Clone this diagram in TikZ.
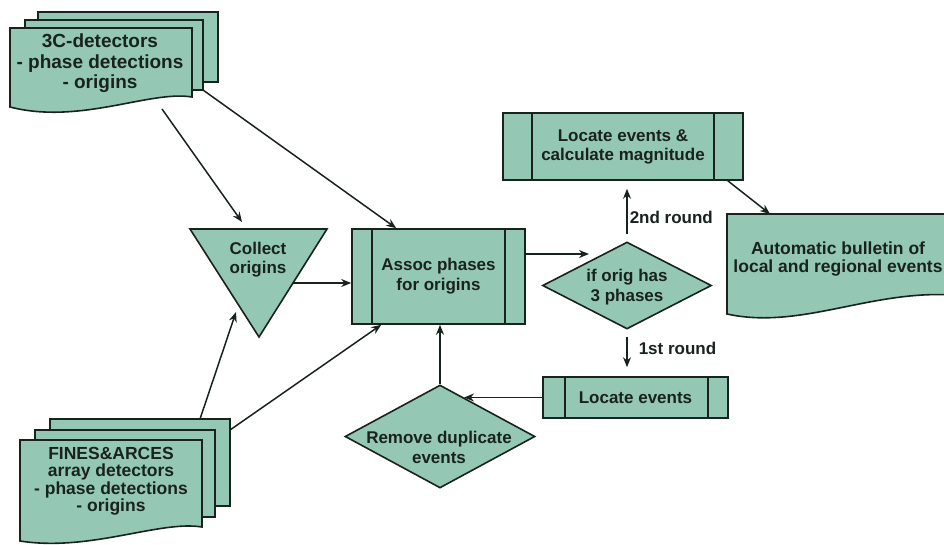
\documentclass[tikz,border=0pt]{standalone}
\usepackage{fontspec}
\setmainfont{Liberation Sans}
\usetikzlibrary{arrows.meta,shapes.geometric,calc}
\definecolor{fillc}{RGB}{148,200,180}
\definecolor{ink}{RGB}{25,35,30}
\begin{document}
\begin{tikzpicture}[x=1pt,y=-1pt,
  shp/.style={draw=ink, line width=1.6pt, fill=fillc},
  bar/.style={draw=ink, line width=1.6pt},
  arr/.style={draw=ink, line width=1.5pt, -{Stealth[length=10pt,width=8pt]}},
  txt/.style={font=\fontsize{17}{20}\selectfont\bfseries, align=center, text=ink, inner sep=0pt},
  proc/.style={shp, rectangle, inner sep=0pt, txt},
  dia/.style={shp, diamond, inner sep=0pt},
  lbl/.style={font=\fontsize{17}{20}\selectfont\bfseries, anchor=west, text=ink, inner sep=0pt}]
\useasboundingbox[fill=white] (0,0) rectangle (944,544);

% --- 3C-detectors document stack
\draw[shp] (38,12) rectangle (218,82);
\draw[shp] (25,20) rectangle (203,90);
\draw[shp] (10,28) -- (192,28) -- (192,97) .. controls (150,90) and (80,125) .. (10,107) -- cycle;
\node[txt, font=\fontsize{19}{20.5}\selectfont\bfseries] (c3) at (100,63.5) {3C-detectors\\- phase detections\\- origins};
\coordinate (c3a) at (162,109);
\coordinate (c3b) at (203,90);

% --- FINES&ARCES document stack
\draw[shp] (50,419) rectangle (230,506);
\draw[shp] (35,430) rectangle (215,517);
\draw[shp] (20,440) -- (202,440) -- (202,527) .. controls (160,520) and (90,552) .. (20,541) -- cycle;
\node[txt, font=\fontsize{17.5}{17.5}\selectfont\bfseries] (fines) at (111,481) {FINES\&ARCES\\array detectors\\- phase detections\\- origins};
\coordinate (fa) at (200,419);
\coordinate (fb) at (230,430);

% --- Collect origins (inverted triangle)
\coordinate (ctl) at (190,229);
\coordinate (ctr) at (327,229);
\coordinate (cb) at (259,337);
\draw[shp] (ctl) -- (ctr) -- (cb) -- cycle;
\node[txt, font=\fontsize{17}{19}\selectfont\bfseries] (coll) at (258,259.5) {Collect\\origins};
\coordinate (cr) at ($(ctr)!0.5!(cb)$);
\coordinate (ctopin) at (242,222);
\coordinate (cleftin) at (236,312);

% --- Assoc phases for origins
\node[proc, minimum width=173pt, minimum height=95pt] (assoc) at (438.5,276.5) {Assoc phases\\for origins};
\draw[bar] ([xshift=21pt]assoc.north west) -- ([xshift=21pt]assoc.south west);
\draw[bar] ([xshift=-21pt]assoc.north east) -- ([xshift=-21pt]assoc.south east);

% --- Locate events & calculate magnitude
\node[proc, minimum width=240pt, minimum height=67pt, font=\fontsize{17}{19}\selectfont\bfseries] (locmag) at (623,146.5) {Locate events \&\\calculate magnitude};
\draw[bar] ([xshift=30pt]locmag.north west) -- ([xshift=30pt]locmag.south west);
\draw[bar] ([xshift=-30pt]locmag.north east) -- ([xshift=-30pt]locmag.south east);

% --- decision: if orig has 3 phases
\node[dia, minimum width=169pt, minimum height=87pt] (if) at (627,285.5) {};
\node[txt] (ift) at (627,287) {if orig has\\3 phases};
\coordinate (ifin) at (589,254);

% --- Automatic bulletin (document)
\draw[shp] (727,214) -- (952,214) -- (952,295) .. controls (870,290) and (800,330) .. (727,314) -- cycle;
\node[txt, font=\fontsize{17.5}{18}\selectfont\bfseries] (bull) at (838,259) {Automatic bulletin of\\local and regional events};
\coordinate (bulltop) at (770,214);

% --- Locate events
\node[proc, minimum width=185pt, minimum height=41pt] (locev) at (635.5,397.5) {Locate events};
\draw[bar] ([xshift=23pt]locev.north west) -- ([xshift=23pt]locev.south west);
\draw[bar] ([xshift=-21pt]locev.north east) -- ([xshift=-21pt]locev.south east);

% --- Remove duplicate events
\node[dia, minimum width=190pt, minimum height=103pt] (rem) at (440,436.5) {};
\node[txt] (remt) at (439,447) {Remove duplicate\\events};
\coordinate (remin) at (464,397.5);

% --- connectors
\draw[arr] (c3a) -- (ctopin);
\draw[arr] (c3b) -- ([xshift=45pt]assoc.north west);
\draw[arr] (fa) -- (cleftin);
\draw[arr] (fb) -- ([xshift=30pt]assoc.south west);
\draw[arr] (cr) -- (cr -| assoc.west);
\draw[arr] ([yshift=22.5pt]assoc.east) -- (ifin);
\draw[arr, shorten <=7pt, shorten >=8pt] (if.north) -- (if.north |- locmag.south)
  node[lbl, pos=0.4, xshift=2pt] (r2) {2nd round};
\draw[arr, shorten <=7pt, shorten >=9pt] (if.south) -- (if.south |- locev.north)
  node[lbl, pos=0.4, xshift=11pt] (r1) {1st round};
\draw[arr] ([xshift=-16pt]locmag.south east) -- (bulltop);
\draw[arr] (locev.west) -- (remin);
\draw[arr] (rem.north) -- (rem.north |- assoc.south);
\end{tikzpicture}
\end{document}
